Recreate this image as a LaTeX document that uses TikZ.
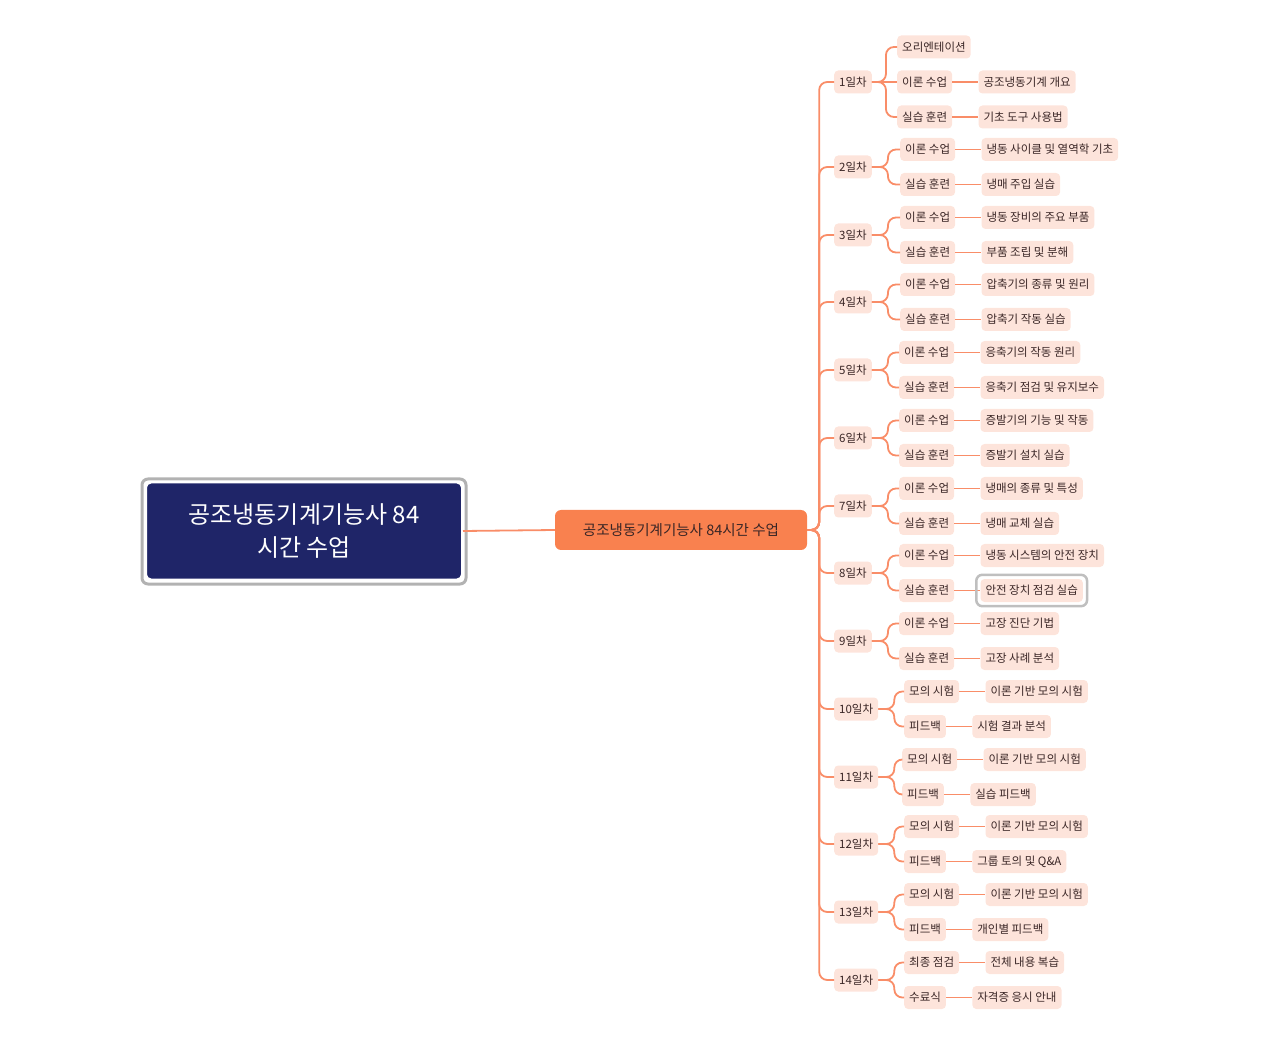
\documentclass[tikz,border=0pt]{standalone}
\usepackage{fontspec}
\usetikzlibrary{positioning}
\setmainfont{Noto Sans CJK KR}
\begin{document}
\begin{tikzpicture}[x=1pt,y=-1pt,
  sm/.style={fill=pk,rounded corners=4pt,minimum height=23pt,inner xsep=5pt,inner ysep=2pt,font=\fontsize{11.5}{13}\selectfont,text=txt,anchor=west},
  ln/.style={draw=og,line width=1.8pt,rounded corners=8pt}]
\definecolor{pk}{HTML}{FDE4DB}
\definecolor{og}{HTML}{F98D68}
\definecolor{txt}{HTML}{3A2626}
\definecolor{navy}{HTML}{1F2568}
\definecolor{mo}{HTML}{F9814F}
\useasboundingbox (0,0) rectangle (1262,1056);
% root
\draw[draw=gray!60,line width=3pt,rounded corners=6pt] (142,479) rectangle (466,584);
\node[draw=white,line width=2pt,fill=navy,rounded corners=5pt,minimum width=316pt,minimum height=97pt,align=center,text=white,font=\fontsize{24}{33}\selectfont] (root) at (304,531) {공조냉동기계기능사 84\\시간 수업};
\node[fill=mo,rounded corners=6pt,minimum width=252pt,minimum height=40pt,text=txt,font=\fontsize{14.5}{16}\selectfont] (main) at (681,530) {공조냉동기계기능사 84시간 수업};
\draw[ln] (root.east) -- (main.west);
\newcommand{\mkday}[8]{%
  \node[sm] (d#1) at (834,#2) {#1일차};
  \draw[ln] (main.east) -- ++(12,0) |- (d#1.west);
  \node[sm] (c#1a) at (#3,#2-17.5) {#4};
  \node[sm,right=26pt of c#1a] (l#1a) {#5};
  \node[sm] (c#1b) at (#3,#2+17.5) {#6};
  \node[sm,right=26pt of c#1b] (l#1b) {#7};
  \draw[ln] (d#1.east) -- ++(#8,0) |- (c#1a.west);
  \draw[ln] (d#1.east) -- ++(#8,0) |- (c#1b.west);
  \draw[ln] (c#1a.east) -- (l#1a.west);
  \draw[ln] (c#1b.east) -- (l#1b.west);
}
% day 1
\node[sm] (d1) at (834,82) {1일차};
\draw[ln] (main.east) -- ++(12,0) |- (d1.west);
\node[sm] (c1o) at (897,47) {오리엔테이션};
\node[sm] (c1a) at (897,82) {이론 수업};
\node[sm,right=26pt of c1a] (l1a) {공조냉동기계 개요};
\node[sm] (c1b) at (897,117) {실습 훈련};
\node[sm,right=26pt of c1b] (l1b) {기초 도구 사용법};
\draw[ln] (d1.east) -- ++(14,0) |- (c1o.west);
\draw[ln] (d1.east) -- (c1a.west);
\draw[ln] (d1.east) -- ++(14,0) |- (c1b.west);
\draw[ln] (c1a.east) -- (l1a.west);
\draw[ln] (c1b.east) -- (l1b.west);
\mkday{2}{167}{900}{이론 수업}{냉동 사이클 및 열역학 기초}{실습 훈련}{냉매 주입 실습}{16}
\mkday{3}{235}{900}{이론 수업}{냉동 장비의 주요 부품}{실습 훈련}{부품 조립 및 분해}{16}
\mkday{4}{302}{900}{이론 수업}{압축기의 종류 및 원리}{실습 훈련}{압축기 작동 실습}{16}
\mkday{5}{370}{899}{이론 수업}{응축기의 작동 원리}{실습 훈련}{응축기 점검 및 유지보수}{16}
\mkday{6}{438}{899}{이론 수업}{증발기의 기능 및 작동}{실습 훈련}{증발기 설치 실습}{16}
\mkday{7}{506}{899}{이론 수업}{냉매의 종류 및 특성}{실습 훈련}{냉매 교체 실습}{16}
\mkday{8}{573}{899}{이론 수업}{냉동 시스템의 안전 장치}{실습 훈련}{안전 장치 점검 실습}{16}
\mkday{9}{641}{899}{이론 수업}{고장 진단 기법}{실습 훈련}{고장 사례 분석}{16}
\mkday{10}{709}{904}{모의 시험}{이론 기반 모의 시험}{피드백}{시험 결과 분석}{16}
\mkday{11}{777}{902}{모의 시험}{이론 기반 모의 시험}{피드백}{실습 피드백}{16}
\mkday{12}{844}{904}{모의 시험}{이론 기반 모의 시험}{피드백}{그룹 토의 및 Q\&A}{16}
\mkday{13}{912}{904}{모의 시험}{이론 기반 모의 시험}{피드백}{개인별 피드백}{16}
\mkday{14}{980}{904}{최종 점검}{전체 내용 복습}{수료식}{자격증 응시 안내}{16}
\draw[draw=gray!50,line width=2.5pt,rounded corners=6pt] ([shift={(-4,-4)}]l8b.north west) rectangle ([shift={(4,4)}]l8b.south east);
\end{tikzpicture}
\end{document}
